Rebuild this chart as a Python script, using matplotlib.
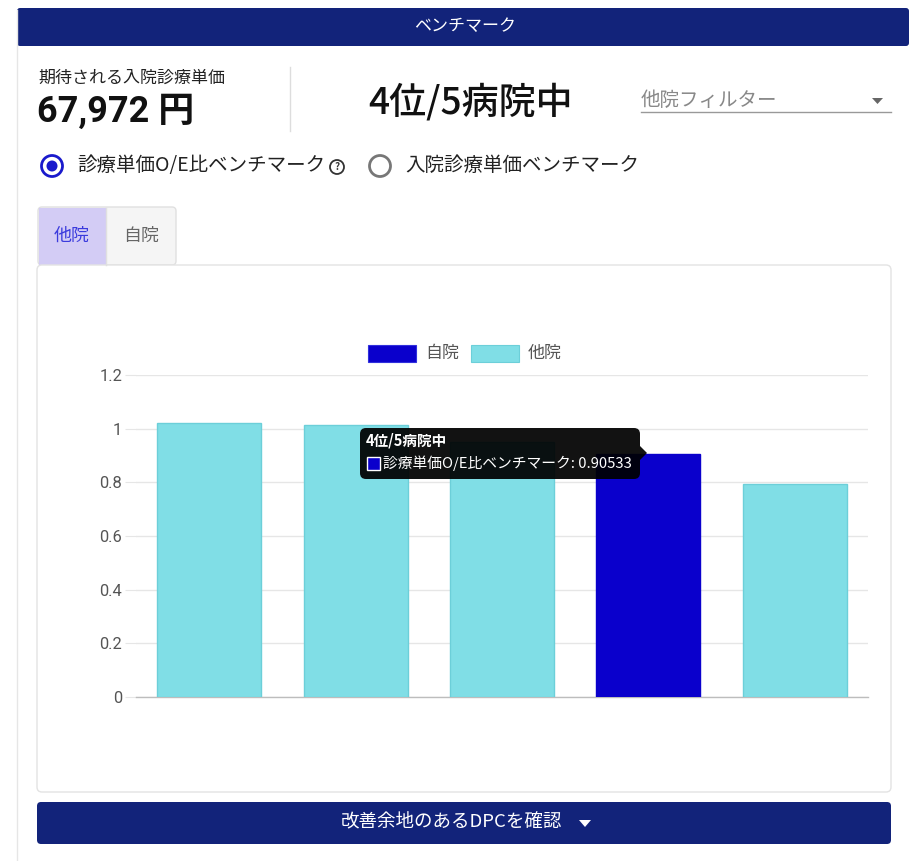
import matplotlib
matplotlib.use("Agg")
import matplotlib.pyplot as plt
from matplotlib.patches import FancyBboxPatch, Rectangle, Circle, Polygon

plt.rcParams['font.family'] = ['Noto Sans CJK JP', 'DejaVu Sans']

# ---- data ----
hospitals = ["病院A", "病院B", "病院C", "自院", "病院E"]
oe_values = [1.021, 1.014, 0.95, 0.90533, 0.794]
is_own = [False, False, False, True, False]
y_ticks = [0, 0.2, 0.4, 0.6, 0.8, 1.0, 1.2]
y_tick_labels = ["0", "0.2", "0.4", "0.6", "0.8", "1", "1.2"]
legend_labels = ["自院", "他院"]
expected_price = "67,972 円"
rank_text = "4位/5病院中"
tooltip_title = "4位/5病院中"
tooltip_line = "診療単価O/E比ベンチマーク: 0.90533"

W, H = 911, 861
NAVY = "#12237A"
OWN = "#0A00CC"
OTHER = "#80DEE6"
OTHER_EDGE = "#6CCFD9"

fig = plt.figure(figsize=(W / 100, H / 100), dpi=100)
fig.patch.set_facecolor("white")

bg = fig.add_axes([0, 0, 1, 1])
bg.set_xlim(0, W)
bg.set_ylim(H, 0)
bg.axis("off")

def pt(px):
    return px * 0.72

# outer container left border
bg.plot([17, 17], [10, 861], color="#e6e6e6", lw=1)
# header bar
bg.add_patch(FancyBboxPatch((17, 8), 892, 38, boxstyle="round,pad=0,rounding_size=3",
                            fc=NAVY, ec="none"))
bg.text(465, 26, "ベンチマーク", color="white", fontsize=pt(17), ha="center", va="center")

# top info
bg.text(38, 78, "期待される入院診療単価", fontsize=pt(17), color="#222222", ha="left", va="center")
bg.text(37, 112, expected_price, fontsize=pt(36), fontweight="bold", color="#111111",
        ha="left", va="center", family=['Roboto', 'Noto Sans CJK JP'])
bg.plot([290, 290], [67, 131], color="#dddddd", lw=1)
bg.text(368, 102, rank_text, fontsize=pt(37), fontweight="medium", color="#111111",
        ha="left", va="center")
bg.text(641, 100, "他院フィルター", fontsize=pt(19.5), color="#888888", ha="left", va="center")
bg.plot([641, 891], [112, 112], color="#999999", lw=1)
bg.add_patch(Polygon([[872, 98], [883, 98], [877.5, 104]], closed=True, fc="#666666", ec="none"))

# radios
bg.add_patch(Circle((52, 166), 10.5, fc="white", ec="#1a1acc", lw=2))
bg.add_patch(Circle((52, 166), 5.5, fc="#1a1acc", ec="none"))
bg.text(77, 165, "診療単価O/E比ベンチマーク", fontsize=pt(19.5), color="#222222",
        ha="left", va="center")
bg.add_patch(Circle((337, 167), 7, fc="white", ec="#333333", lw=1.3))
bg.text(337, 167.5, "?", fontsize=pt(10), color="#333333", ha="center", va="center",
        fontweight="bold")
bg.add_patch(Circle((380, 166), 10.5, fc="white", ec="#777777", lw=2))
bg.text(405, 165, "入院診療単価ベンチマーク", fontsize=pt(19.5), color="#222222",
        ha="left", va="center")

# tabs
bg.add_patch(FancyBboxPatch((38, 207), 138, 58, boxstyle="round,pad=0,rounding_size=4",
                            fc="#f5f5f5", ec="#e0e0e0", lw=1))
bg.add_patch(Rectangle((39, 208), 67, 57, fc="#D3CCF5", ec="none"))
bg.plot([106, 106], [208, 265], color="#e0e0e0", lw=1)
bg.text(72, 236, "他院", fontsize=pt(18), color="#3b3bdd", ha="center", va="center")
bg.text(141, 236, "自院", fontsize=pt(18), color="#666666", ha="center", va="center")

# chart card
bg.add_patch(FancyBboxPatch((37, 265), 854, 527, boxstyle="round,pad=0,rounding_size=5",
                            fc="white", ec="#e3e3e3", lw=1))

# bottom button
bg.add_patch(FancyBboxPatch((37, 802), 854, 42, boxstyle="round,pad=0,rounding_size=4",
                            fc=NAVY, ec="none"))
bg.text(451, 822, "改善余地のあるDPCを確認", fontsize=pt(18.5), color="white",
        ha="center", va="center")
bg.add_patch(Polygon([[579, 820], [591, 820], [585, 827]], closed=True, fc="white", ec="none"))

# legend
bg.add_patch(Rectangle((368, 345), 48, 17, fc=OWN, ec="#3030dd", lw=0.8))
bg.text(425, 353, legend_labels[0], fontsize=pt(17), color="#555555", ha="left", va="center")
bg.add_patch(Rectangle((471, 345), 48, 17, fc=OTHER, ec=OTHER_EDGE, lw=0.8))
bg.text(528, 353, legend_labels[1], fontsize=pt(17), color="#555555", ha="left", va="center")

# ---- chart axes ----
x0, x1 = 136, 868
y_top, y_bot = 375, 697
ax = fig.add_axes([x0 / W, 1 - y_bot / H, (x1 - x0) / W, (y_bot - y_top) / H])
ax.set_facecolor("none")
xs = list(range(len(hospitals)))
colors = [OWN if o else OTHER for o in is_own]
edges = [OWN if o else OTHER_EDGE for o in is_own]
ax.bar(xs, oe_values, width=0.71, color=colors, edgecolor=edges, linewidth=1, zorder=3)
ax.set_xlim(-0.5, len(hospitals) - 0.5)
ax.set_ylim(0, 1.2)
ax.set_yticks(y_ticks)
ax.set_yticklabels(y_tick_labels, fontsize=pt(16.5), color="#555555",
                   family=['Roboto', 'Noto Sans CJK JP'])
ax.set_xticks([])
for s in ["top", "right", "left"]:
    ax.spines[s].set_visible(False)
ax.spines["bottom"].set_color("#bdbdbd")
ax.spines["bottom"].set_linewidth(1)
ax.grid(axis="y", color="#e6e6e6", lw=1, zorder=0)
ax.tick_params(axis="y", length=8, color="#e6e6e6", pad=2)

# ---- tooltip overlay ----
top = fig.add_axes([0, 0, 1, 1])
top.set_xlim(0, W)
top.set_ylim(H, 0)
top.axis("off")
top.patch.set_alpha(0)
top.add_patch(FancyBboxPatch((360, 428), 280, 51, boxstyle="round,pad=0,rounding_size=6",
                             fc="black", ec="none", alpha=0.93))
top.add_patch(Polygon([[640, 446], [647, 453], [640, 460]], closed=True, fc="black",
                      ec="none", alpha=0.93))
top.text(366, 441, tooltip_title, fontsize=pt(14.6), fontweight="bold", color="white",
         ha="left", va="center")
top.add_patch(Rectangle((367, 457), 13, 13, fc=OWN, ec="white", lw=1))
top.text(383, 463, tooltip_line, fontsize=pt(14.8), color="white", ha="left", va="center")

fig.savefig("out.png", dpi=100)
